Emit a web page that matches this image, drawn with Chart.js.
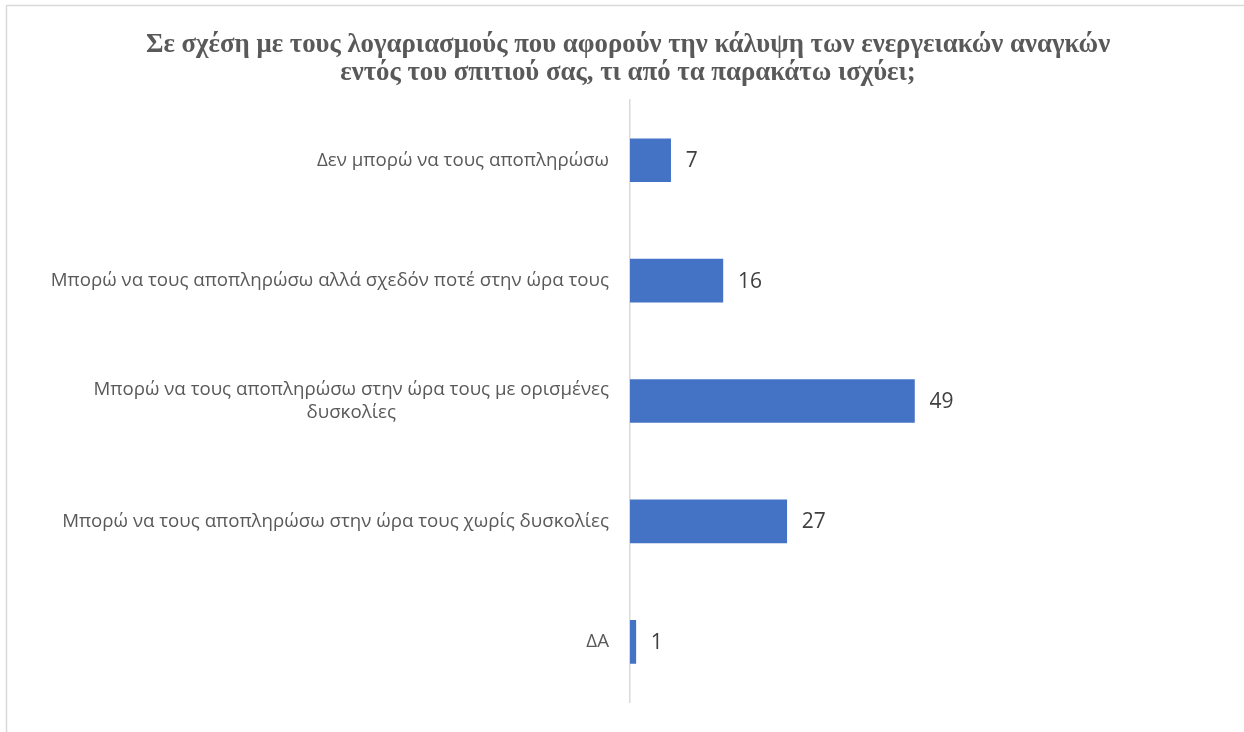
<!DOCTYPE html>
<html lang="el">
<head>
<meta charset="utf-8">
<title>Λογαριασμοί ενεργειακών αναγκών</title>
<script src="https://cdn.jsdelivr.net/npm/chart.js@4/dist/chart.umd.min.js"></script>
<style>
  html, body { margin: 0; padding: 0; background: #ffffff; }
  #wrap { position: relative; width: 1244px; height: 732px; overflow: hidden; }
  canvas { display: block; }
</style>
</head>
<body>
<div id="wrap"><canvas id="chart" width="1244" height="732"></canvas></div>
<script>
// Survey answers and their counts
const titleLines = [
  'Σε σχέση με τους λογαριασμούς που αφορούν την κάλυψη των ενεργειακών αναγκών',
  'εντός του σπιτιού σας, τι από τα παρακάτω ισχύει;'
];
const categories = [
  ['Δεν μπορώ να τους αποπληρώσω'],
  ['Μπορώ να τους αποπληρώσω αλλά σχεδόν ποτέ στην ώρα τους'],
  ['Μπορώ να τους αποπληρώσω στην ώρα τους με ορισμένες', 'δυσκολίες'],
  ['Μπορώ να τους αποπληρώσω στην ώρα τους χωρίς δυσκολίες'],
  ['ΔΑ']
];
const values = [7, 16, 49, 27, 1];
const axisMax = 100;

const LABEL_FONT = '18.7px "Open Sans", "Noto Sans", sans-serif';
const VALUE_FONT = '21px "Open Sans", "Noto Sans", sans-serif';

// Outer frame of the chart object
const framePlugin = {
  id: 'frame',
  beforeDraw(chart) {
    const ctx = chart.ctx;
    ctx.save();
    ctx.fillStyle = '#ffffff';
    ctx.fillRect(0, 0, chart.width, chart.height);
    ctx.strokeStyle = '#d9d9d9';
    ctx.lineWidth = 1.5;
    ctx.strokeRect(6.5, 5.5, chart.width + 50, chart.height + 50);
    ctx.restore();
  }
};

// Category labels: block right-aligned next to the axis, wrapped lines centred in the block
const categoryLabelPlugin = {
  id: 'categoryLabels',
  afterDraw(chart) {
    const ctx = chart.ctx;
    const yScale = chart.scales.y;
    const right = chart.chartArea.left - 21;
    const lineH = 23;
    ctx.save();
    ctx.font = LABEL_FONT;
    ctx.fillStyle = '#595959';
    ctx.textBaseline = 'middle';
    ctx.textAlign = 'center';
    chart.data.labels.forEach((lines, i) => {
      const yc = yScale.getPixelForValue(i);
      const blockW = Math.max(...lines.map(l => ctx.measureText(l).width));
      const cx = right - blockW / 2;
      const y0 = yc - (lines.length - 1) * lineH / 2;
      lines.forEach((l, k) => ctx.fillText(l, cx, y0 + k * lineH));
    });
    ctx.restore();
  }
};

// Value labels at the end of each bar
const valueLabelPlugin = {
  id: 'valueLabels',
  afterDatasetsDraw(chart) {
    const ctx = chart.ctx;
    const meta = chart.getDatasetMeta(0);
    ctx.save();
    ctx.font = VALUE_FONT;
    ctx.fillStyle = '#404040';
    ctx.textBaseline = 'middle';
    ctx.textAlign = 'left';
    meta.data.forEach((bar, i) => {
      ctx.fillText(String(chart.data.datasets[0].data[i]), bar.x + 15, bar.y + 1);
    });
    ctx.restore();
  }
};

new Chart(document.getElementById('chart'), {
  type: 'bar',
  data: {
    labels: categories,
    datasets: [{
      data: values,
      backgroundColor: '#4472c4',
      borderWidth: 0,
      barThickness: 43
    }]
  },
  options: {
    indexAxis: 'y',
    responsive: false,
    animation: false,
    layout: { padding: { left: 45.5, right: 33.5, top: 0, bottom: 30 } },
    scales: {
      x: {
        display: false,
        min: 0,
        max: axisMax
      },
      y: {
        grid: { display: false, drawTicks: false },
        border: { display: true, color: '#d9d9d9', width: 1.5 },
        ticks: { display: false },
        afterFit(scale) { scale.width = 630 - 45.5; }
      }
    },
    plugins: {
      legend: { display: false },
      tooltip: { enabled: false },
      title: {
        display: true,
        text: titleLines,
        color: '#595959',
        font: { family: '"Liberation Serif", "Times New Roman", serif', size: 26.8, weight: 'bold', lineHeight: 1.045 },
        padding: { top: 30.6, bottom: 13.4 }
      }
    }
  },
  plugins: [framePlugin, categoryLabelPlugin, valueLabelPlugin]
});
</script>
</body>
</html>
